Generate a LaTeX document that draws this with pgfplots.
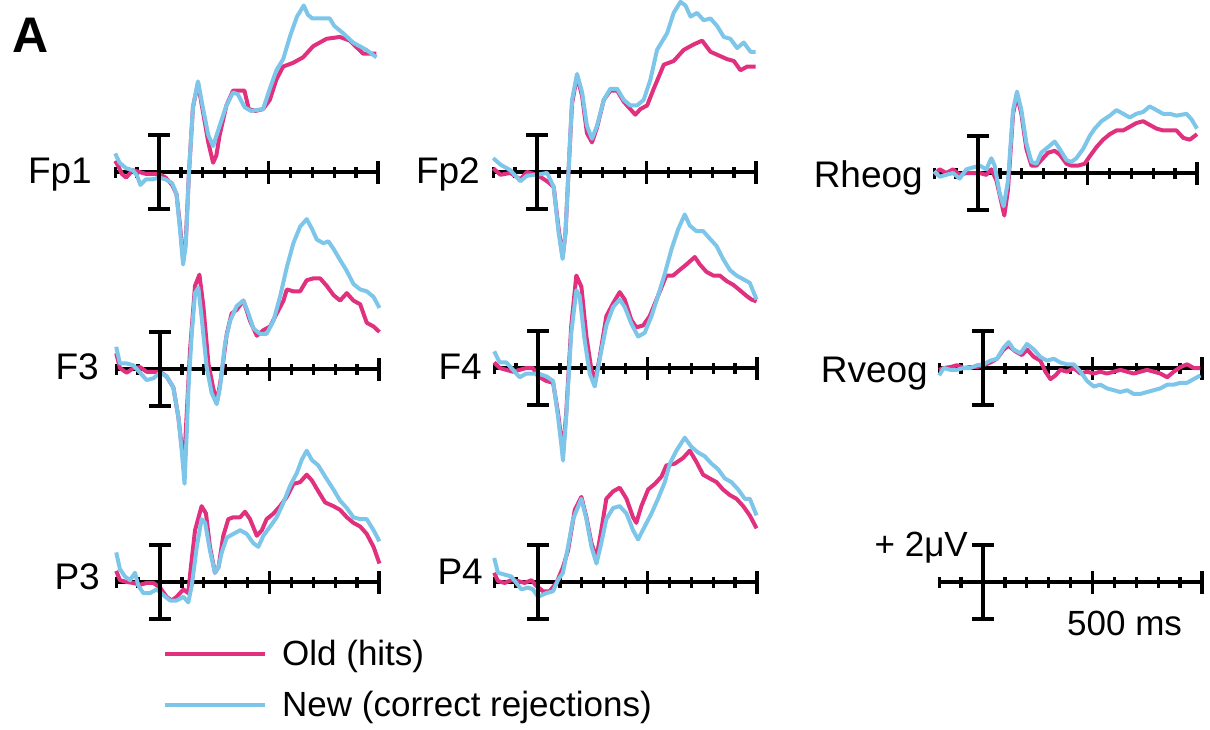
\documentclass[border=0pt]{standalone}
\usepackage{pgfplots}
\pgfplotsset{compat=1.18}
\usepackage{fontspec}
\setmainfont{Liberation Sans}
\definecolor{oldc}{RGB}{224,48,126}
\definecolor{newc}{RGB}{125,198,234}
\newcommand\lblfont{\fontsize{37}{40}\selectfont}
\newcommand\smfont{\fontsize{35}{38}\selectfont}
\pgfplotsset{
  erp/.style={
    anchor=origin, x=0.219pt, y=18.5pt,
    xmin=-200, xmax=1000, ymin=-7, ymax=10,
    axis x line=middle, axis y line=none,
    axis line style={-, line width=3.8pt, black},
    xtick={-200,-100,...,1000}, xticklabels={},
    extra x ticks={500,1000}, extra x tick labels={},
    extra x tick style={major tick length=23pt},
    xtick align=center, major tick length=11pt,
    tick style={line width=3.3pt, black},
    clip=false,
  },
  old/.style={draw=oldc, line width=4pt, line join=round},
  new/.style={draw=newc, line width=4pt, line join=round},
}
\newcommand\scalebar{\draw[line width=3.8pt, black] (axis cs:0,-2) -- (axis cs:0,2)
  (axis cs:-50,2) -- (axis cs:50,2) (axis cs:-50,-2) -- (axis cs:50,-2);}

\begin{document}
\begin{tikzpicture}
\useasboundingbox (0pt,0pt) rectangle (1210pt,-729pt);

% Fp1
\begin{axis}[erp, at={(159pt,-172pt)}]
\addplot[old] coordinates {(-200,0.6) (-185,0.3) (-170,-0.1) (-150,-0.3) (-120,0.1) (-90,0.0) (-60,-0.1) (-30,-0.1) (0,-0.1) (30,-0.3) (60,-0.7) (80,-1.2) (95,-2.8) (110,-4.7) (122,-3.8) (137,0) (155,3.5) (178,4.8) (200,3.3) (225,1.6) (247,0.5) (262,0.9) (277,2.0) (308,3.6) (338,4.4) (390,4.4) (410,3.4) (440,3.3) (475,3.4) (506,3.9) (536,5.0) (567,5.7) (612,5.9) (658,6.2) (704,6.8) (765,7.2) (826,7.3) (871,7.1) (932,6.4) (993,6.4)};
\addplot[new] coordinates {(-200,1.0) (-180,0.5) (-150,0.2) (-120,0.1) (-100,-0.2) (-85,-0.7) (-60,-0.4) (-30,-0.4) (0,-0.3) (30,-0.4) (60,-0.6) (80,-1.2) (95,-3.0) (110,-5.0) (122,-4.0) (137,0) (155,3.5) (178,4.9) (200,3.5) (225,2.0) (247,1.4) (277,2.5) (308,3.6) (338,4.3) (360,4.2) (391,3.5) (420,3.3) (475,3.4) (506,4.5) (536,5.5) (567,6.1) (600,7.4) (630,8.4) (661,9.0) (680,8.5) (700,8.3) (780,8.3) (800,7.9) (841,7.5) (886,7.0) (947,6.6) (993,6.2)};
\scalebar
\end{axis}

% F3
\begin{axis}[erp, at={(160pt,-369pt)}]
\addplot[old] coordinates {(-200,0.85) (-183,0.05) (-152,-0.2) (-122,0.05) (-91,0.1) (-61,-0.15) (-30,-0.15) (0,-0.15) (30,-0.4) (61,-1.0) (84,-2.6) (99,-4.2) (112,-4.7) (124,-2.0) (137,1.0) (160,4.5) (180,5.1) (198,3.4) (221,0.3) (244,-1.1) (262,-1.7) (282,-0.2) (305,1.9) (327,3.0) (350,3.2) (381,3.7) (411,2.6) (442,1.8) (472,2.1) (503,2.3) (533,3.0) (564,3.7) (579,4.3) (609,4.2) (640,4.2) (670,4.8) (701,4.9) (731,4.9) (761,4.5) (792,4.0) (822,3.7) (853,4.1) (883,3.7) (914,3.5) (944,2.5) (975,2.3) (1002,2.0)};
\addplot[new] coordinates {(-200,1.2) (-183,0.3) (-152,0.3) (-122,0.2) (-91,-0.2) (-61,-0.6) (-30,-0.5) (0,-0.2) (30,-0.4) (61,-1.0) (84,-2.6) (99,-4.4) (112,-6.2) (122,-3.5) (130,-1.0) (145,1.9) (160,4.1) (175,4.4) (190,2.8) (213,0.1) (236,-1.3) (259,-1.9) (274,-1.0) (297,1.4) (320,2.6) (350,3.4) (381,3.7) (404,3.0) (426,2.2) (457,1.9) (487,1.9) (518,2.6) (548,3.9) (579,5.5) (609,6.8) (640,7.7) (670,8.1) (693,7.6) (716,7.0) (746,6.8) (769,6.9) (792,6.5) (822,5.9) (853,5.3) (883,4.6) (914,4.3) (944,4.2) (975,3.9) (1002,3.3)};
\scalebar
\end{axis}

% P3
\begin{axis}[erp, at={(160pt,-582pt)}]
\addplot[old] coordinates {(-200,0.6) (-183,0.1) (-152,0.0) (-122,-0.05) (-91,-0.15) (-61,-0.05) (-30,-0.05) (0,-0.3) (30,-0.8) (53,-1.0) (76,-0.8) (107,-0.4) (129,-0.6) (140,0.7) (160,2.8) (190,4.1) (210,3.7) (228,1.9) (251,0.5) (267,0.8) (289,2.5) (312,3.4) (335,3.5) (366,3.5) (388,3.8) (411,3.4) (442,2.5) (465,2.8) (487,3.4) (518,3.7) (548,4.1) (579,4.6) (609,5.3) (640,5.4) (670,5.8) (693,5.5) (723,4.9) (754,4.3) (792,4.1) (822,3.9) (853,3.5) (883,3.2) (914,3.0) (944,2.6) (975,1.9) (1002,1.0)};
\addplot[new] coordinates {(-200,1.6) (-183,0.7) (-160,0.3) (-137,0.1) (-114,0.5) (-99,-0.2) (-76,-0.6) (-46,-0.6) (-15,-0.4) (15,-0.7) (46,-1.0) (76,-1.0) (107,-0.8) (129,-1.1) (145,-0.2) (168,1.9) (190,3.4) (206,3.2) (228,1.7) (251,0.5) (267,0.8) (282,1.6) (305,2.4) (335,2.6) (366,2.8) (396,2.6) (426,2.1) (449,1.9) (472,2.5) (503,3.0) (533,3.5) (564,4.3) (594,5.2) (625,5.9) (647,6.6) (670,7.1) (693,6.6) (723,6.3) (754,5.7) (792,5.0) (822,4.4) (853,4.0) (883,3.5) (914,3.4) (944,3.4) (975,2.8) (1002,2.2)};
\scalebar
\end{axis}

% Fp2
\begin{axis}[erp, at={(537pt,-172pt)}]
\addplot[old] coordinates {(-200,0.2) (-167,-0.15) (-122,-0.05) (-76,-0.4) (-46,0) (0,-0.15) (46,-0.5) (76,-0.8) (99,-3.1) (117,-4.6) (130,-3.3) (145,0.3) (160,3.7) (183,5.2) (206,4.1) (228,2.1) (251,1.6) (274,2.4) (305,3.9) (335,4.4) (366,4.4) (396,3.8) (426,3.4) (449,3.1) (472,3.4) (503,3.6) (533,4.5) (579,5.8) (624,6.0) (670,6.6) (716,6.9) (754,7.1) (792,6.5) (830,6.3) (868,6.1) (899,6.0) (929,5.5) (960,5.7) (998,5.7)};
\addplot[new] coordinates {(-200,0.75) (-167,0.4) (-122,0.1) (-76,-0.5) (-46,-0.2) (0,-0.15) (46,-0.05) (76,-0.8) (99,-3.3) (117,-4.7) (130,-3.3) (145,0.3) (160,3.9) (183,5.3) (206,4.3) (228,2.5) (251,1.8) (274,2.5) (305,3.9) (335,4.5) (366,4.5) (396,3.9) (426,3.6) (457,3.6) (487,3.9) (518,5.0) (548,6.6) (594,7.5) (624,8.6) (655,9.2) (678,9.0) (701,8.4) (731,8.6) (761,8.2) (792,8.3) (822,7.9) (853,7.3) (883,7.2) (914,6.7) (944,7.0) (975,6.5) (998,6.5)};
\scalebar
\end{axis}

% F4
\begin{axis}[erp, at={(538pt,-368pt)}]
\addplot[old] coordinates {(-200,0.3) (-175,0) (-145,-0.1) (-114,-0.2) (-84,-0.1) (-53,0) (-23,0) (0,-0.45) (38,-0.7) (69,-0.8) (91,-2.4) (107,-3.9) (114,-4.6) (129,-2.4) (152,2.3) (175,5.0) (198,4.4) (221,1.7) (244,-0.1) (263,-0.6) (282,0.6) (312,2.8) (343,3.5) (373,4.1) (396,3.7) (426,2.6) (449,2.2) (480,2.3) (510,2.8) (548,3.9) (586,5.0) (617,5.0) (647,5.3) (678,5.6) (716,6.0) (739,5.6) (769,5.2) (800,5.0) (830,5.0) (861,4.7) (891,4.5) (922,4.2) (952,3.9) (975,3.7) (998,3.6)};
\addplot[new] coordinates {(-200,0.9) (-175,0.3) (-145,0.3) (-114,-0.1) (-84,-0.5) (-53,-0.3) (-23,-0.3) (0,-0.3) (38,-0.45) (69,-0.7) (91,-2.6) (107,-4.2) (114,-5.0) (129,-2.6) (152,1.9) (175,4.2) (190,3.9) (213,1.5) (236,-0.3) (259,-1.0) (282,0.5) (312,2.3) (343,3.3) (373,3.7) (396,3.3) (426,2.4) (457,1.7) (487,1.9) (518,2.8) (548,3.9) (579,5.1) (609,6.4) (640,7.5) (670,8.3) (693,7.7) (723,7.4) (754,7.4) (784,7.0) (815,6.6) (845,5.9) (876,5.3) (906,5.0) (937,4.8) (967,4.6) (998,3.7)};
\scalebar
\end{axis}

% P4
\begin{axis}[erp, at={(538pt,-582pt)}]
\addplot[old] coordinates {(-200,0.5) (-183,0.05) (-152,-0.05) (-122,0.1) (-91,0.05) (-61,-0.05) (-30,0.1) (-8,-0.2) (23,-0.5) (53,-0.5) (84,-0.05) (114,0.8) (137,1.7) (168,3.9) (198,4.6) (221,3.5) (244,2.1) (267,1.3) (289,2.8) (312,4.5) (343,4.9) (373,5.1) (404,4.5) (434,3.5) (449,3.2) (472,4.1) (503,5.0) (533,5.3) (564,5.7) (586,6.3) (625,6.4) (662,6.7) (693,7.1) (723,6.5) (754,5.8) (784,5.6) (815,5.4) (845,5.0) (876,4.7) (906,4.5) (937,4.1) (967,3.6) (998,2.9)};
\addplot[new] coordinates {(-200,1.3) (-183,0.5) (-152,0.4) (-122,0.3) (-99,-0.05) (-76,-0.4) (-46,-0.3) (-23,-0.4) (0,-0.8) (38,-0.6) (69,-0.5) (91,0.1) (114,0.5) (137,1.9) (160,3.4) (198,4.5) (221,3.4) (244,1.9) (267,1.0) (289,2.1) (312,3.4) (343,4.0) (373,4.1) (404,3.7) (434,2.8) (457,2.3) (487,3.0) (518,3.7) (548,4.5) (579,5.4) (602,6.4) (632,7.1) (670,7.8) (701,7.3) (731,7.0) (761,6.8) (792,6.4) (822,6.1) (853,5.6) (883,5.4) (914,5.0) (944,4.5) (967,4.5) (998,3.6)};
\scalebar
\end{axis}

% Rheog
\begin{axis}[erp, at={(978pt,-173pt)}]
\addplot[old] coordinates {(-200,-0.1) (-175,0.2) (-145,0) (-114,0.2) (-84,-0.1) (-53,0) (-23,0) (8,0) (38,-0.1) (61,0.2) (84,-0.4) (107,-1.6) (120,-2.3) (137,-0.9) (160,3.2) (178,4.2) (198,3.2) (221,1.3) (244,0.4) (267,0.4) (289,0.7) (320,1.1) (350,1.2) (373,1.0) (404,0.5) (426,0.4) (457,0.4) (487,0.5) (510,0.9) (541,1.4) (571,1.8) (602,2.1) (632,2.3) (663,2.3) (693,2.5) (723,2.7) (754,2.8) (784,2.6) (815,2.4) (845,2.3) (876,2.3) (906,2.3) (937,1.9) (967,1.8) (1000,2.1)};
\addplot[new] coordinates {(-200,0.1) (-175,-0.2) (-145,-0.1) (-114,0) (-84,-0.3) (-53,0.2) (-23,0.3) (8,0.4) (38,0.2) (61,0.8) (76,0.4) (99,-1.1) (117,-1.8) (137,-0.4) (160,3.4) (178,4.4) (198,3.4) (221,1.6) (244,0.6) (267,0.5) (289,1.1) (320,1.4) (350,1.7) (373,1.3) (404,0.7) (426,0.6) (449,0.8) (480,1.3) (510,2.0) (533,2.4) (564,2.8) (602,3.1) (632,3.4) (663,3.2) (693,3.0) (723,3.2) (754,3.3) (784,3.6) (815,3.4) (845,3.2) (876,3.2) (906,3.1) (952,3.2) (975,2.9) (1000,2.4)};
\scalebar
\end{axis}

% Rveog
\begin{axis}[erp, at={(983pt,-368pt)}]
\addplot[old] coordinates {(-200,-0.1) (-180,0) (-149,0.05) (-119,0.15) (-88,0) (-58,0.05) (-27,0.05) (3,0.15) (34,0.3) (64,0.5) (94,1.0) (117,1.2) (148,0.9) (178,0.7) (201,1.0) (232,0.6) (262,0.4) (285,-0.2) (308,-0.6) (331,-0.4) (353,-0.1) (384,-0.2) (414,0) (445,-0.3) (475,-0.2) (506,-0.3) (536,-0.2) (566,-0.3) (597,-0.2) (627,-0.1) (658,-0.2) (688,-0.3) (719,-0.2) (749,-0.1) (780,-0.2) (810,-0.3) (841,-0.5) (871,-0.2) (901,0.05) (932,0.2) (962,0) (993,0)};
\addplot[new] coordinates {(-200,-0.4) (-180,0) (-149,-0.1) (-119,-0.1) (-88,0) (-58,0) (-27,0.15) (3,0.2) (34,0.4) (64,0.5) (94,1.1) (117,1.4) (140,1.0) (171,0.8) (201,1.3) (232,1.0) (262,0.6) (292,0.4) (323,0.5) (353,0.3) (384,0.2) (414,0.2) (445,-0.2) (475,-0.7) (506,-1.0) (536,-0.9) (566,-1.1) (597,-1.2) (627,-1.3) (658,-1.2) (688,-1.4) (719,-1.4) (749,-1.3) (780,-1.2) (810,-1.1) (841,-0.9) (871,-0.9) (901,-0.8) (932,-0.8) (962,-0.6) (993,-0.4)};
\scalebar
\end{axis}

% scale
\begin{axis}[erp, at={(983pt,-582pt)}]
\scalebar
\end{axis}

% legend
\begin{axis}[hide axis, scale only axis, width=10pt, height=10pt,
  xmin=0, xmax=1, ymin=0, ymax=1, at={(163pt,-640pt)}, anchor=south west,
  legend style={at={(0,0)}, anchor=north west, draw=none, fill=none,
    inner sep=0pt, font=\smfont, row sep=24pt,
    nodes={inner sep=0pt},
    /tikz/every odd column/.append style={column sep=15pt}},
  legend cell align=left,
  legend image code/.code={\draw[#1] (0pt,0pt) -- (100pt,0pt);}]
\addlegendimage{old}
\addlegendentry{Old (hits)}
\addlegendimage{new}
\addlegendentry{New (correct rejections)}
\end{axis}

\node[anchor=base west, inner sep=0, font=\fontsize{50}{55}\selectfont\bfseries] at (12pt,-52pt) {A};
\node[anchor=base east, inner sep=0, font=\lblfont] at (92pt,-183pt) {Fp1};
\node[anchor=base east, inner sep=0, font=\lblfont] at (99pt,-379pt) {F3};
\node[anchor=base east, inner sep=0, font=\lblfont] at (100pt,-589pt) {P3};
\node[anchor=base east, inner sep=0, font=\lblfont] at (480pt,-183pt) {Fp2};
\node[anchor=base east, inner sep=0, font=\lblfont] at (482pt,-379pt) {F4};
\node[anchor=base east, inner sep=0, font=\lblfont] at (483pt,-584pt) {P4};
\node[anchor=base east, inner sep=0, font=\lblfont] at (923pt,-187pt) {Rheog};
\node[anchor=base east, inner sep=0, font=\lblfont] at (928pt,-382pt) {Rveog};
\node[anchor=base east, inner sep=0, font=\smfont] at (968pt,-556pt) {+ 2μV};
\node[anchor=base west, inner sep=0, font=\smfont] at (1067pt,-635pt) {500 ms};
\end{tikzpicture}
\end{document}
